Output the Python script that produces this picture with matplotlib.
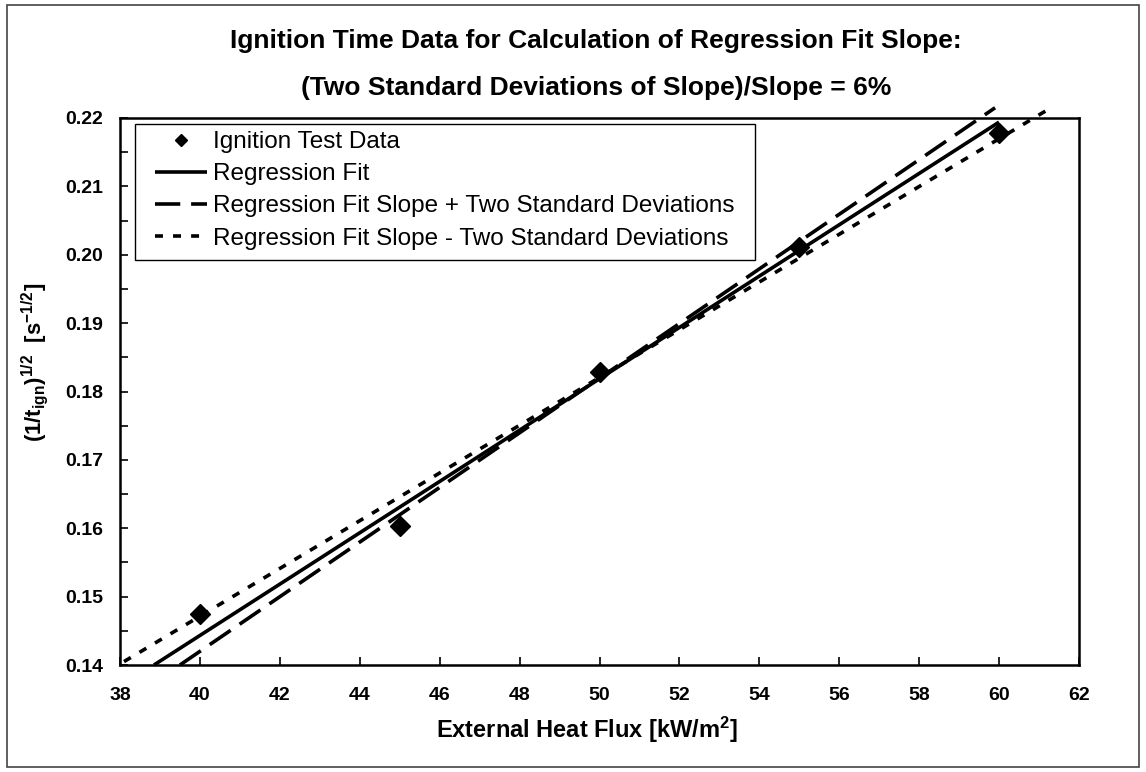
import matplotlib
matplotlib.use("Agg")
import matplotlib.pyplot as plt
from matplotlib.patches import Rectangle
from matplotlib.ticker import MultipleLocator, FormatStrFormatter

plt.rcParams['font.family'] = ['Liberation Sans', 'DejaVu Sans']
plt.rcParams['mathtext.fontset'] = 'custom'
plt.rcParams['mathtext.rm'] = 'Liberation Sans'
plt.rcParams['mathtext.bf'] = 'Liberation Sans:bold'
plt.rcParams['mathtext.it'] = 'Liberation Sans:italic'

# ---- data ----
heat_flux = [40.0, 45.0, 50.0, 55.0, 60.0]
ign_value = [0.1474, 0.1604, 0.1829, 0.2012, 0.2178]

fit_x = [38.85, 60.0]
fit_y = [0.1400, 0.2194]
plus_x = [39.5, 59.9]
plus_y = [0.1400, 0.2215]
minus_x = [38.1, 61.3]
minus_y = [0.1405, 0.2215]

x_ticks = [38, 40, 42, 44, 46, 48, 50, 52, 54, 56, 58, 60, 62]
y_ticks = [0.14, 0.15, 0.16, 0.17, 0.18, 0.19, 0.20, 0.21, 0.22]

labels = ["Ignition Test Data", "Regression Fit",
          "Regression Fit Slope + Two Standard Deviations",
          "Regression Fit Slope - Two Standard Deviations"]

W, H = 1146, 772
fig = plt.figure(figsize=(W / 100, H / 100), dpi=100)
AX_L, AX_R, AX_T, AX_B = 120, 1079, 118, 665
ax = fig.add_axes([AX_L / W, 1 - AX_B / H, (AX_R - AX_L) / W, (AX_B - AX_T) / H])
aw, ah = AX_R - AX_L, AX_B - AX_T

ax.plot(heat_flux, ign_value, linestyle='none', marker='D', markersize=10,
        color='black', label=labels[0], zorder=5, clip_on=False)
ax.plot(fit_x, fit_y, color='black', lw=2.6, label=labels[1], clip_on=False,
        solid_capstyle='butt')
ax.plot(plus_x, plus_y, color='black', lw=2.6, dashes=(7, 3), label=labels[2],
        clip_on=False, dash_capstyle='butt')
ax.plot(minus_x, minus_y, color='black', lw=2.6, dashes=(2.2, 2.8), label=labels[3],
        clip_on=False, dash_capstyle='butt')

ax.set_xlim(38, 62)
ax.set_ylim(0.14, 0.22)
ax.set_xticks(x_ticks)
ax.set_yticks(y_ticks)
ax.yaxis.set_minor_locator(MultipleLocator(0.005))
ax.yaxis.set_major_formatter(FormatStrFormatter('%.2f'))
ax.tick_params(axis='both', which='both', direction='in', color='black',
               labelsize=14)
ax.tick_params(axis='both', which='major', length=6, width=1.2)
ax.tick_params(axis='y', which='minor', length=6, width=1.2)
ax.tick_params(axis='x', pad=16)
ax.tick_params(axis='y', pad=12)
for lab in ax.get_xticklabels() + ax.get_yticklabels():
    lab.set_fontweight('bold')
for sp in ax.spines.values():
    sp.set_linewidth(1.8)
    sp.set_color('black')

xl = ax.set_xlabel(r'External Heat Flux [kW/m$^{\mathbf{2}}$]', fontsize=17,
                   fontweight='bold', va='center')
ax.xaxis.set_label_coords((587 - AX_L) / aw, -(730 - AX_B) / ah)
yl = ax.set_ylabel(r'$\mathbf{(1/t_{ign})^{1/2}}$  $\mathbf{[s^{-1/2}]}$', fontsize=16,
                   va='center')
ax.yaxis.set_label_coords(-(AX_L - 35) / aw, 1 - (362 - AX_T) / ah)

# legend: content placed without frame, frame drawn as a box
leg = ax.legend(loc='upper left',
                bbox_to_anchor=((155 - AX_L) / aw, 1 - (131 - AX_T) / ah),
                fontsize=17.5, frameon=False, markerscale=0.65,
                handlelength=2.15, handletextpad=0.22, labelspacing=0.42,
                borderpad=0.0, borderaxespad=0.0, numpoints=1)
ax.add_patch(Rectangle(((135 - AX_L) / aw, 1 - (260 - AX_T) / ah),
                       (755 - 135) / aw, (260 - 124) / ah,
                       transform=ax.transAxes, fill=True, facecolor='white',
                       edgecolor='black', lw=1.0, zorder=4))
leg.set_zorder(6)

fig.text(0.52, 1 - 41 / H, "Ignition Time Data for Calculation of Regression Fit Slope:",
         ha='center', va='center', fontsize=19, fontweight='bold')
fig.text(0.52, 1 - 88 / H, "(Two Standard Deviations of Slope)/Slope = 6%",
         ha='center', va='center', fontsize=19, fontweight='bold')

fig.add_artist(Rectangle((7 / W, 5 / H), (1139 - 7) / W, (767 - 5) / H,
                         transform=fig.transFigure, fill=False,
                         edgecolor='#444444', lw=1.2))

fig.savefig('out.png', dpi=100)
